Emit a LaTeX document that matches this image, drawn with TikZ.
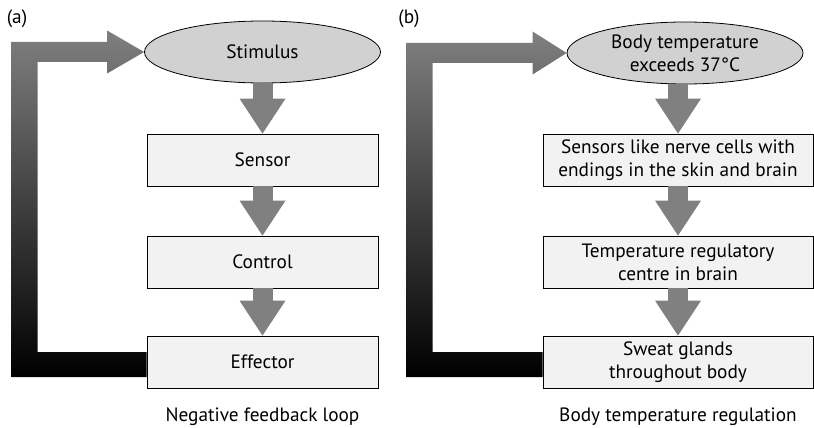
\documentclass[tikz,border=0pt]{standalone}
\usepackage{fontspec}
\setmainfont{PT Sans}
\usetikzlibrary{shapes.geometric,arrows.meta,calc}

\definecolor{arrowgray}{gray}{0.5}
\definecolor{stimgray}{gray}{0.82}
\definecolor{boxgray}{gray}{0.95}

\begin{document}
\begin{tikzpicture}[x=1pt,y=-1pt]

\tikzset{
  TextStyle/.style = { font = \fontsize{19.3}{23}\selectfont, align = center },
  StimStyle/.style = { TextStyle, ellipse, draw, line width = 0.8pt,
                       fill = stimgray, minimum width = 236, minimum height = 62,
                       inner sep = 0pt },
  BoxStyle/.style  = { TextStyle, rectangle, draw, line width = 0.8pt,
                       fill = boxgray, minimum height = 52, inner sep = 0pt },
  ArrowStyle/.style = { arrowgray, line width = 20pt,
                        -{Triangle[width = 46pt, length = 35pt, line width = 0pt]} },
  LoopStyle/.style = { top color = arrowgray, bottom color = black } }
  \useasboundingbox (0,0) rectangle (814,428);

  \node[TextStyle] (la) at (17,19) {(a)};
  \node[TextStyle] (lb) at (409,19) {(b)};

  \node[StimStyle] (st1) at (262.5,52) {Stimulus};
  \node[BoxStyle, minimum width = 231] (se1) at (262.5,160) {Sensor};
  \node[BoxStyle, minimum width = 231] (c1) at (262.5,262) {Control};
  \node[BoxStyle, minimum width = 231] (e1) at (262.5,362) {Effector};
  \node[TextStyle, anchor = base] (cap1) at (262.5,421) {Negative feedback loop};

  \node[StimStyle] (st2) at (685,53) {Body temperature\\exceeds 37°C};
  \node[BoxStyle, minimum width = 270] (se2) at (678,160)
    {Sensors like nerve cells with\\endings in the skin and brain};
  \node[BoxStyle, minimum width = 270] (c2) at (678,262)
    {Temperature regulatory\\centre in brain};
  \node[BoxStyle, minimum width = 270] (e2) at (678,362)
    {Sweat glands\\throughout body};
  \node[TextStyle, anchor = base] (cap2) at (678,421) {Body temperature regulation};

  \draw[ArrowStyle] (st1) -- (se1);
  \draw[ArrowStyle] (se1) -- (c1);
  \draw[ArrowStyle] (c1) -- (e1);

  \draw[ArrowStyle] (se2 |- st2.south) -- (se2);
  \draw[ArrowStyle] (se2) -- (c2);
  \draw[ArrowStyle] (c2) -- (e2);

  \shade[LoopStyle] ($(e1.west)+(0,-10)$) -- ++(-109,0)
    |- ($(st1.west)+(-37,10)$) -- ++(0,11.5) -- (st1.west) -- ++(-37,-21.5)
    -- ++(0,11.5) -| ($(e1.west)+(-135,15)$) -- ($(e1.west)+(0,15)$) -- cycle;
  \shade[LoopStyle] ($(e2.west)+(0,-10)$) -- ++(-110,0)
    |- ($(st2.west)+(-34,10)$) -- ++(0,11.5) -- (st2.west) -- ++(-34,-21.5)
    -- ++(0,11.5) -| ($(e2.west)+(-136,15)$) -- ($(e2.west)+(0,15)$) -- cycle;

\end{tikzpicture}
\end{document}
